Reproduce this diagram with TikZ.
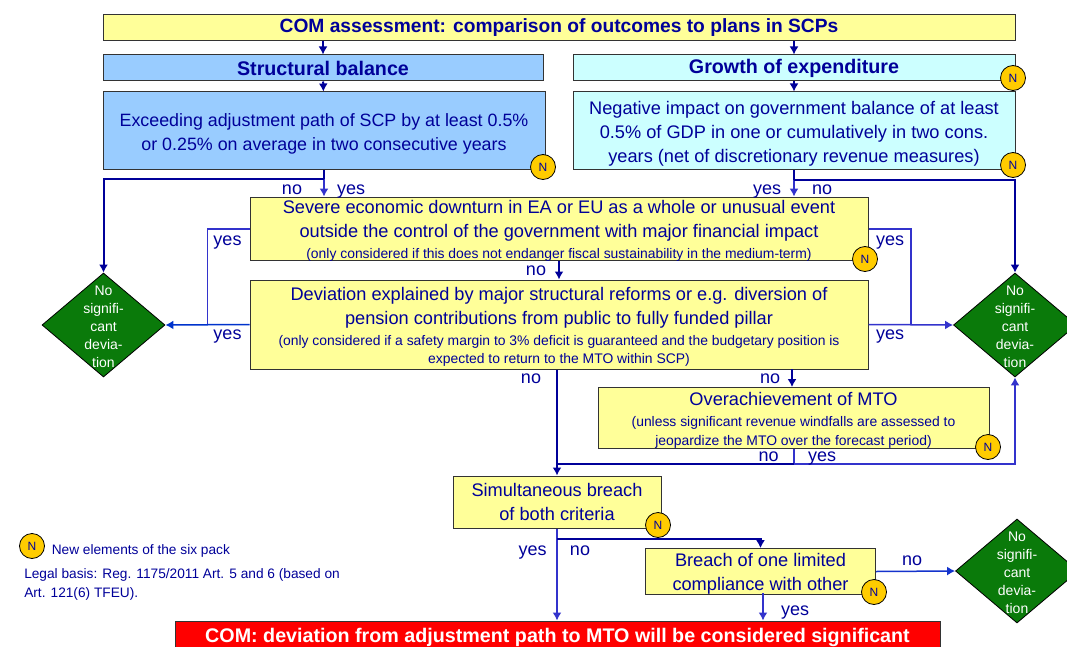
\documentclass[tikz,border=0pt]{standalone}
\usepackage{fontspec}
\setmainfont{Liberation Sans}
\usetikzlibrary{shapes.geometric, arrows.meta}

\definecolor{inkblue}{HTML}{000099}
\definecolor{linedark}{HTML}{000099}
\definecolor{linelight}{HTML}{3333CC}
\definecolor{linemid}{HTML}{0033CC}
\definecolor{boxyellow}{HTML}{FFFF99}
\definecolor{boxblue}{HTML}{99CCFF}
\definecolor{boxcyan}{HTML}{CCFFFF}
\definecolor{badge}{HTML}{FFCC00}
\definecolor{nosig}{HTML}{0A7A0A}

\newcommand{\smalltxt}{\fontsize{13.9}{18}\selectfont}
\newcommand{\topgap}[1]{\rule{0pt}{#1pt}}

\begin{document}
\begin{tikzpicture}[x=1pt, y=-1pt, >={Latex[length=8pt,width=9pt]}, line width=1.5pt]
    \tikzstyle{box}=[rectangle, draw=black!80, line width=1pt, inner sep=0pt, align=center,
        text=inkblue, font=\fontsize{18.2}{24}\selectfont]
    \tikzstyle{head box}=[box, font=\fontsize{19.7}{24}\selectfont\bfseries]
    \tikzstyle{no sig}=[diamond, draw=black, line width=0.8pt, fill=nosig, inner sep=0pt, aspect=1.18,
        minimum width=123pt, minimum height=104pt]
    \tikzstyle{no sig text}=[text=white, align=center, inner sep=0pt, yshift=-1.5pt,
        font=\fontsize{14}{18}\selectfont]
    \tikzstyle{new badge}=[circle, draw=black, line width=0.8pt, fill=badge, text=inkblue, inner sep=0pt,
        minimum size=25pt, font=\fontsize{12}{12}\selectfont]
    \tikzstyle{answer}=[text=inkblue, inner sep=0pt, anchor=base, yshift=-6pt, font=\fontsize{18}{20}\selectfont]
    \tikzstyle{note}=[text=inkblue, inner sep=0pt, anchor=west, font=\fontsize{13.7}{16}\selectfont]
    \tikzstyle{dark}=[draw=linedark, line width=2pt]
    \tikzstyle{light}=[draw=linelight]
    \tikzstyle{mid}=[draw=linemid]

    \useasboundingbox (0,0) rectangle (1067,647);

    % boxes
    \node[head box, fill=boxyellow, minimum width=912pt, minimum height=26pt,
          font=\fontsize{19.2}{24}\selectfont\bfseries] (assess) at (559,28)
        {COM assessment: comparison of outcomes to plans in SCPs};
    \node[head box, fill=boxblue, minimum width=440pt, minimum height=26pt] (sb) at (323,68) {Structural balance};
    \node[head box, fill=boxcyan, minimum width=442pt, minimum height=26pt] (ge) at (794,68) {Growth of expenditure};
    \node[box, fill=boxblue, minimum width=442pt, minimum height=78pt,
          font=\fontsize{17.85}{24}\selectfont] (exceed) at (324,131)
        {\topgap{18}Exceeding adjustment path of SCP by at least 0.5\%\\ or 0.25\% on average in two consecutive years};
    \node[box, fill=boxcyan, minimum width=442pt, minimum height=78pt] (impact) at (794,131)
        {\topgap{18}Negative impact on government balance of at least\\ 0.5\% of GDP in one or cumulatively in two cons.\\
         years (net of discretionary revenue measures)};
    \node[box, fill=boxyellow, minimum width=618pt, minimum height=62pt] (severe) at (559,229)
        {\topgap{16}Severe economic downturn in EA or EU as a whole or unusual event\\
         outside the control of the government with major financial impact\\[-3pt]
         {\smalltxt (only considered if this does not endanger fiscal sustainability in the medium-term)}};
    \node[box, fill=boxyellow, minimum width=618pt, minimum height=89pt] (dev) at (559,324.5)
        {\topgap{18}Deviation explained by major structural reforms or e.g. diversion of\\
         pension contributions from public to fully funded pillar\\[-3pt]
         {\smalltxt (only considered if a safety margin to 3\% deficit is guaranteed and the budgetary position is}\\[-6pt]
         {\smalltxt expected to return to the MTO within SCP)}};
    \node[box, fill=boxyellow, minimum width=391pt, minimum height=60pt] (over) at (793.5,418)
        {\topgap{18}Overachievement of MTO\\[-3pt]
         {\smalltxt (unless significant revenue windfalls are assessed to}\\[-5pt]
         {\smalltxt jeopardize the MTO over the forecast period)}};
    \node[box, fill=boxyellow, minimum width=208pt, minimum height=52pt] (both) at (557,502)
        {Simultaneous breach\\ of both criteria};
    \node[box, fill=boxyellow, minimum width=230pt, minimum height=43pt] (limited) at (760.5,571.5)
        {\topgap{18}Breach of one limited\\ compliance with other};
    \node[head box, fill=red, text=white, minimum width=765pt, minimum height=32pt] (com) at (557.5,637)
        {COM: deviation from adjustment path to MTO will be considered significant};

    % diamonds
    \foreach \name / \x / \y in {left/103.5/325, right/1015/325, low/1017/571}
        \node[no sig, label={[no sig text]center:No\\signifi-\\cant\\devia-\\tion}] (\name) at (\x,\y) {};

    \coordinate (exceed-no) at (324,179);
    \coordinate (impact-no) at (794,180);
    \coordinate (yes-left) at (207.5,229);
    \coordinate (yes-right) at (911,229);
    \coordinate (dev-over) at (792,369);
    \coordinate (over-out) at (794,464);
    \coordinate (over-both) at (557,464);
    \coordinate (both-no) at (557,539);
    \coordinate (limited-yes) at (763,593);

    % connectors
    \draw[->, dark] (assess.south -| sb.north) -- (sb.north);
    \draw[->, dark] (assess.south -| ge.north) -- (ge.north);
    \draw[->, dark] (sb) -- (exceed);
    \draw[->, dark] (ge) -- (impact);

    \draw[dark] (exceed.south) -- (exceed-no);
    \draw[->, light] (exceed-no) -- (exceed-no |- severe.north);
    \draw[->, dark] (exceed-no) -| (left.north);
    \draw[dark] (impact.south) -- (impact-no);
    \draw[->, light] (impact-no) -- (impact-no |- severe.north);
    \draw[->, dark] (impact-no) -| (right.north);

    \draw[light] (severe.west) -- (yes-left) -- (yes-left |- dev.west);
    \draw[light] (severe.east) -- (yes-right) -- (yes-right |- dev.east);
    \draw[->, mid] (dev.west) -- (left.east);
    \draw[->, light] (dev.east) -- (right.west);
    \draw[->, dark] (severe) -- (dev);

    \draw[->, dark] (dev.south -| both.north) -- (both.north);
    \draw[->, dark] (dev-over) -- (dev-over |- over.north);
    \draw[light] (over.south -| over-out) -- (over-out);
    \draw[dark] (over-out) -- (over-both);
    \draw[->, light] (over-out) -| (right.south);

    \draw[->, light] (both.south) -- (both.south |- com.north);
    \draw[->, dark] (both-no) -| (limited.north);
    \draw[->, light] (limited-yes) -- (limited-yes |- com.north);
    \draw[->, linemid!60!linelight] (limited.east) -- (low.west);

    % badges
    \foreach \name / \x / \y in {n-exceed/543/167, n-ge/1013/78, n-impact/1013/165, n-severe/865/259,
                                 n-over/988/447, n-both/658/525, n-limited/874/592, n-key/32/546}
        \node[new badge] (\name) at (\x,\y) {N};

    % answers
    \foreach \name / \txt / \x / \y in {a1/no/292/188, a2/yes/351/188, a3/yes/767/188, a4/no/822/188,
                                        a5/yes/227.5/239, a6/yes/890/239, a7/no/536/269,
                                        a8/yes/227.5/333, a9/yes/890/333, a10/no/531/377, a11/no/770/377,
                                        a12/no/768.5/455, a13/yes/822/455, a14/yes/532.5/549, a15/no/580/549,
                                        a16/yes/795/609, a17/no/912/559}
        \node[answer] (\name) at (\x,\y) {\txt};

    % key
    \node[note] (key) at (51,551) {New elements of the six pack};
    \node[note] (basis1) at (23.5,575) {Legal basis:  Reg. 1175/2011 Art. 5 and 6 (based on};
    \node[note] (basis2) at (23.5,594) {Art. 121(6) TFEU).};
\end{tikzpicture}
\end{document}
